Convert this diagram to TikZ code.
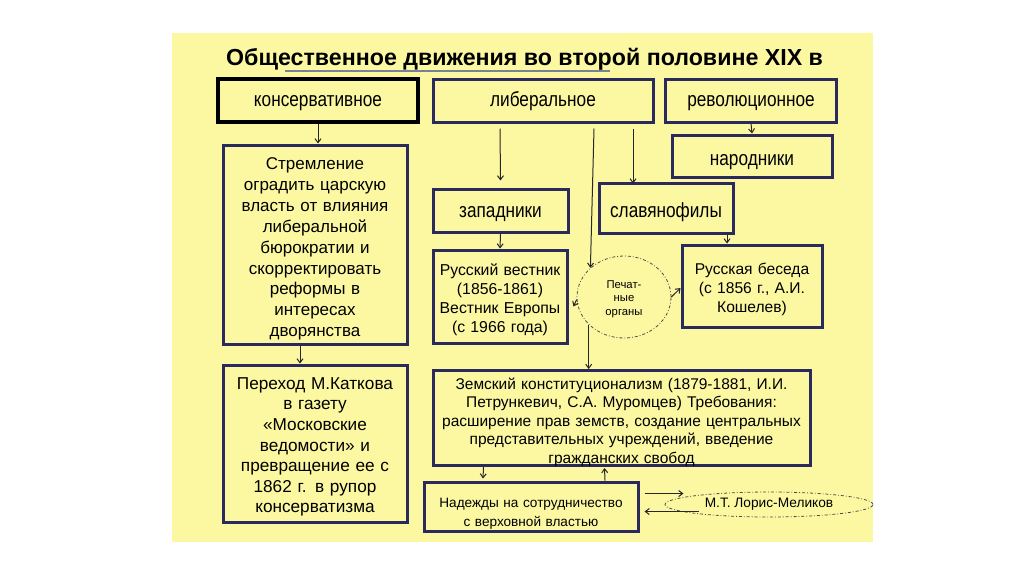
\documentclass[tikz,border=0pt]{standalone}
\usepackage{fontspec}
\setmainfont{Liberation Sans}
\newfontfamily\lblfont{Liberation Sans}[FakeStretch=0.84]
\usetikzlibrary{arrows.meta,calc,shapes.geometric}
\definecolor{bgy}{RGB}{252,248,162}
\definecolor{navy}{RGB}{42,42,92}
\definecolor{ulin}{RGB}{120,130,150}
\begin{document}
\begin{tikzpicture}[x=1pt,y=-1pt,
  box/.style={draw=navy,line width=3pt,align=center,inner sep=0pt},
  kbox/.style={draw=black,line width=3.5pt,align=center,inner sep=0pt},
  lbl/.style={font=\lblfont\fontsize{20.5}{24}\selectfont},
  arr/.style={-{Straight Barb[length=4pt,width=6pt]},line width=1pt,draw=black!85},
  dshape/.style={draw=black!70,line width=0.8pt,dash pattern=on 3pt off 2pt on 0.8pt off 2pt,ellipse}]
\useasboundingbox (0,0) rectangle (1024,574);
\fill[white] (0,0) rectangle (1024,574);
\fill[bgy] (172,33) rectangle (873,542);
% title
\node[font=\fontsize{23.2}{26}\selectfont\bfseries,inner sep=0pt,anchor=base] (title) at (524.5,65) {Общественное движения во второй половине XIX в};
\draw[ulin,line width=1.3pt] (285,71) coordinate (ul1) -- (610,71) coordinate (ul2);
% top row
\node[kbox,lbl,minimum width=200pt,minimum height=43pt,text height=11pt,text depth=0pt] (kons) at (318,100.5) {консервативное};
\node[box,lbl,minimum width=220pt,minimum height=43pt,text height=11pt,text depth=0pt] (lib) at (543,100.5) {либеральное};
\node[box,lbl,minimum width=171pt,minimum height=43pt,text height=11pt,text depth=0pt] (rev) at (751,100.5) {революционное};
% left column
\node[box,minimum width=184pt,minimum height=199pt,text width=180pt,text height=0pt,text depth=150pt,font=\fontsize{17}{20.9}\selectfont] (strem) at (315,244.5) {Стремление\\оградить царскую\\власть от влияния\\либеральной\\бюрократии и\\скорректировать\\реформы в\\интересах\\дворянства};
\node[box,minimum width=184pt,minimum height=157pt,text width=180pt,text height=0pt,text depth=108.4pt,font=\fontsize{17.2}{20.6}\selectfont] (perehod) at (315,443.5) {Переход М.Каткова\\в газету\\«Московские\\ведомости» и\\превращение ее с\\1862 г. в рупор\\консерватизма};
% middle
\node[box,lbl,minimum width=135pt,minimum height=43pt,text height=14pt,text depth=0pt] (zapad) at (500.5,210.5) {западники};
\node[box,lbl,minimum width=134pt,minimum height=50pt,text height=18pt,text depth=0pt] (slav) at (666,208) {славянофилы};
\node[box,lbl,minimum width=160pt,minimum height=42pt,text height=18pt,text depth=0pt] (narod) at (752,156) {народники};
\node[box,minimum width=134pt,minimum height=93pt,text width=130pt,text height=0pt,text depth=43pt,font=\fontsize{15.8}{19}\selectfont] (rv) at (500,296.5) {Русский вестник\\(1856-1861)\\Вестник Европы\\(с 1966 года)};
\node[dshape,minimum width=94pt,minimum height=82pt,inner sep=0pt,align=center,text height=36pt,text depth=0pt,font=\fontsize{11.3}{13.5}\selectfont] (pech) at (624,297) {Печат-\\ные\\органы};
\node[box,minimum width=140pt,minimum height=82pt,text width=136pt,text height=0pt,text depth=23pt,font=\fontsize{15.6}{19}\selectfont] (rb) at (752,286) {Русская беседа\\(с 1856 г., А.И.\\Кошелев)};
% bottom
\node[box,minimum width=377pt,minimum height=95pt,text width=372pt,text height=0pt,text depth=58pt,font=\fontsize{15.5}{18.5}\selectfont] (zem) at (621.5,418) {Земский конституционализм (1879-1881, И.И.\\Петрункевич, С.А. Муромцев) Требования:\\расширение прав земств, создание центральных\\представительных учреждений, введение\\гражданских свобод};
\node[box,minimum width=214pt,minimum height=49pt,text width=210pt,text height=1pt,text depth=0pt,font=\fontsize{13.6}{19}\selectfont] (nad) at (531,506.5) {Надежды на сотрудничество\\с верховной властью};
\node[dshape,minimum width=208pt,minimum height=25pt,inner sep=0pt,text height=5pt,text depth=0pt,font=\fontsize{13.7}{16}\selectfont] (loris) at (769,504.5) {М.Т. Лорис-Меликов};
% connectors
\draw[arr] (kons.south) -- (kons.south |- strem.north);
\draw[arr] ($(strem.south)+(-15,0)$) -- ($(perehod.north)+(-15,0)$);
\draw[arr] ($(lib.south)+(-43,5)$) -- ($(zapad.north)+(0,-7)$);
\draw[arr] ($(lib.south)+(90,5)$) -- ($(lib.south)+(90,60)$) coordinate (sl1);
\draw[arr] ($(lib.south)+(51,5)$) -- (pech.139);
\draw[arr] (rev.south) -- (narod.north);
\draw[arr] (zapad.south) -- (rv.north);
\draw[arr] ($(slav.south)+(61,0)$) -- ($(rb.north)+(-25,0)$);
\draw[arr] (pech.183) -- ($(rv.east)+(5,10)$);
\draw[arr] (pech.east) -- ($(rb.west)+(0,2)$);
\draw[arr] (pech.218) -- (pech.218 |- zem.north);
\draw[arr] ($(zem.south)+(-138,0)$) -- ($(nad.north)+(-48,-2)$);
\draw[arr] ($(nad.north)+(74,0)$) -- ($(zem.south)+(-17,1)$);
\draw[arr] ($(nad.east)+(5,-13)$) -- ($(nad.east)+(44,-13)$) coordinate (la);
\draw[arr] ($(nad.east)+(59,5)$) -- ($(nad.east)+(5,5)$);
\end{tikzpicture}
\end{document}
